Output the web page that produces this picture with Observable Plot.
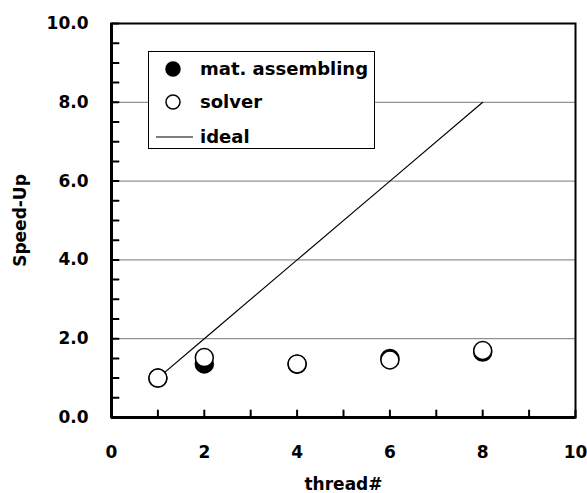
<!DOCTYPE html>
<html>
<head>
<meta charset="utf-8">
<script src="https://cdn.jsdelivr.net/npm/d3@7"></script>
<script src="https://cdn.jsdelivr.net/npm/@observablehq/plot@0.6"></script>
<style>
  html, body { margin: 0; padding: 0; background: #fff; }
  #wrap { position: relative; width: 587px; height: 493px; }
  #legend { position: absolute; left: 148px; top: 51px; }
</style>
</head>
<body>
<div id="wrap"></div>
<script>
const threads = [1, 2, 4, 6, 8];
const matAssembling = [1.0, 1.36, 1.35, 1.50, 1.66];
const solver = [1.0, 1.52, 1.36, 1.46, 1.70];
const ideal = [1, 2, 4, 6, 8];
const yTickLabels = [0, 2, 4, 6, 8, 10];
const xTickLabels = [0, 2, 4, 6, 8, 10];
const yMinorTicks = d3.range(0, 10.01, 0.5);
const xMinorTicks = d3.range(0, 10.01, 1);
const gridLines = [2, 4, 6, 8];
const legendItems = ["mat. assembling", "solver", "ideal"];

const matData = threads.map((t, i) => ({t, v: matAssembling[i]}));
const solverData = threads.map((t, i) => ({t, v: solver[i]}));
const idealData = threads.map((t, i) => ({t, v: ideal[i]}));

const font = "'DejaVu Sans', 'Liberation Sans', Arial, sans-serif";
const tickShape = {draw(context, l) { context.moveTo(0, 0); context.lineTo(0, -l); }};

const chart = Plot.plot({
  width: 587,
  height: 493,
  marginLeft: 111,
  marginRight: 12,
  marginTop: 23,
  marginBottom: 76,
  style: {fontFamily: font, fontWeight: "bold", fontSize: "17px", color: "black", background: "white"},
  x: {domain: [0, 10]},
  y: {domain: [0, 10]},
  marks: [
    Plot.ruleY(gridLines, {stroke: "#777", strokeWidth: 1}),
    Plot.vector(yMinorTicks, {y: d => d, frameAnchor: "left", rotate: 90, length: 7, anchor: "start", shape: tickShape, stroke: "black", strokeWidth: 2}),
    Plot.vector(xMinorTicks, {x: d => d, frameAnchor: "bottom", rotate: 0, length: 7, anchor: "start", shape: tickShape, stroke: "black", strokeWidth: 2}),
    Plot.axisY(yTickLabels, {tickSize: 0, tickPadding: 23, tickFormat: d3.format(".1f"), label: "Speed-Up", labelAnchor: "center", labelOffset: 98, labelArrow: "none", fontWeight: "bold", fontSize: 17}),
    Plot.axisX(xTickLabels, {tickSize: 0, tickPadding: 28, tickFormat: d => String(d), label: "thread#", labelAnchor: "center", labelOffset: 72, labelArrow: "none", fontWeight: "bold", fontSize: 17}),
    Plot.frame({stroke: "black", strokeWidth: 2}),
    Plot.ruleX([0], {stroke: "black", strokeWidth: 3}),
    Plot.ruleY([0], {stroke: "black", strokeWidth: 3}),
    Plot.line(idealData, {x: "t", y: "v", stroke: "black", strokeWidth: 1.2}),
    Plot.dot(matData, {x: "t", y: "v", r: 9, fill: "black", stroke: "black", strokeWidth: 1.5}),
    Plot.dot(solverData, {x: "t", y: "v", r: 9, fill: "white", stroke: "black", strokeWidth: 1.5})
  ]
});

const wrap = document.getElementById("wrap");
wrap.appendChild(chart);

const ns = "http://www.w3.org/2000/svg";
const leg = document.createElementNS(ns, "svg");
leg.setAttribute("id", "legend");
leg.setAttribute("width", 227);
leg.setAttribute("height", 98);
leg.innerHTML = `
  <rect x="0.5" y="0.5" width="226" height="97" fill="white" stroke="black" stroke-width="1"/>
  <circle cx="25" cy="18" r="7" fill="black" stroke="black" stroke-width="1.5"/>
  <circle cx="25" cy="51" r="7" fill="white" stroke="black" stroke-width="1.5"/>
  <line x1="8" x2="45" y1="86" y2="86" stroke="black" stroke-width="1.2"/>
`;
[18, 51, 86].forEach((cy, i) => {
  const t = document.createElementNS(ns, "text");
  t.setAttribute("x", 52);
  t.setAttribute("y", cy);
  t.setAttribute("dy", "0.36em");
  t.setAttribute("font-family", font);
  t.setAttribute("font-weight", "bold");
  t.setAttribute("font-size", "18");
  t.textContent = legendItems[i];
  leg.appendChild(t);
});
wrap.appendChild(leg);
</script>
</body>
</html>
